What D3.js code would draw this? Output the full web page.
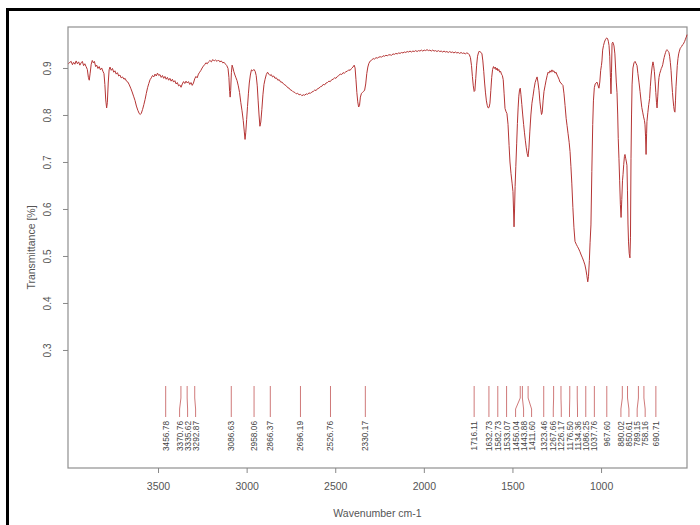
<!DOCTYPE html>
<html>
<head>
<meta charset="utf-8">
<script src="https://cdn.jsdelivr.net/npm/d3@7"></script>
<style>
  body { margin: 0; background: #fff; }
  svg { display: block; }
  text { font-family: "Liberation Sans", Arial, Helvetica, sans-serif; }
</style>
</head>
<body>
<svg id="chart" width="700" height="525"></svg>
<script>
// IR spectrum: wavenumber (cm-1) and transmittance
const wavenumber = [
  4006,3998,3990,3983,3976,3969,3962,3955,3948,3941,3934,3927,3920,3913,3906,3899,3893,3888,3883,3877,
  3871,3865,3859,3852,3846,3839,3832,3825,3818,3811,3805,3800,3795,3790,3786,3781,3776,3771,3764,3757,
  3750,3743,3736,3729,3722,3715,3708,3700,3692,3686,3678,3670,3662,3654,3646,3638,3630,3622,3614,3606,
  3600,3594,3587,3580,3573,3566,3559,3552,3545,3538,3531,3524,3517,3510,3503,3496,3489,3482,3475,3468,
  3461,3454,3447,3440,3433,3426,3419,3412,3405,3398,3391,3384,3377,3370,3363,3356,3349,3342,3335,3328,
  3321,3314,3307,3300,3293,3286,3279,3272,3265,3258,3251,3244,3237,3230,3222,3215,3207,3199,3191,3183,
  3175,3167,3159,3151,3143,3135,3127,3119,3112,3105,3100,3096,3093,3090,3086,3082,3077,3072,3066,3060,
  3054,3047,3040,3033,3026,3019,3013,3009,3005,3000,2995,2990,2985,2979,2973,2966,2959,2952,2946,2940,
  2935,2930,2925,2920,2914,2908,2902,2896,2889,2882,2875,2868,2861,2854,2847,2840,2832,2824,2816,2808,
  2800,2792,2784,2776,2768,2760,2752,2744,2736,2728,2720,2712,2704,2696,2688,2680,2672,2664,2656,2648,
  2640,2632,2624,2616,2608,2600,2592,2584,2576,2568,2560,2552,2544,2536,2528,2520,2512,2504,2496,2488,
  2480,2472,2464,2456,2448,2440,2432,2424,2416,2408,2400,2393,2388,2383,2378,2373,2368,2363,2358,2352,
  2346,2340,2334,2328,2322,2316,2310,2302,2294,2286,2278,2270,2262,2254,2246,2238,2230,2222,2214,2206,
  2198,2190,2182,2174,2166,2158,2150,2142,2134,2126,2118,2110,2102,2094,2086,2078,2070,2062,2054,2046,
  2038,2030,2022,2014,2006,1998,1990,1982,1974,1966,1958,1950,1942,1934,1926,1918,1910,1902,1894,1886,
  1878,1870,1862,1854,1846,1838,1830,1822,1814,1806,1798,1790,1782,1774,1766,1758,1750,1743,1737,1731,
  1726,1721,1716,1712,1707,1702,1697,1692,1687,1682,1677,1672,1667,1662,1657,1652,1647,1642,1637,1632,
  1627,1622,1617,1612,1607,1602,1597,1592,1587,1582,1577,1572,1567,1562,1557,1552,1547,1542,1537,1531,
  1525,1519,1514,1508,1502,1497,1494,1491,1488,1485,1481,1476,1472,1468,1464,1460,1456,1452,1447,1442,
  1437,1432,1427,1422,1417,1412,1407,1402,1396,1390,1384,1378,1372,1366,1361,1356,1350,1345,1340,1336,
  1332,1327,1322,1316,1310,1304,1299,1294,1288,1283,1277,1272,1266,1260,1254,1248,1243,1237,1232,1226,
  1220,1215,1209,1203,1197,1192,1186,1180,1175,1170,1165,1159,1153,1147,1140,1133,1126,1119,1112,1105,
  1098,1091,1085,1080,1075,1071,1066,1062,1057,1052,1047,1043,1038,1033,1028,1023,1018,1012,1007,1002,
  998,995,991,986,981,976,971,967,963,959,955,951,947,944,941,938,934,930,927,922,
  918,914,910,906,903,899,895,891,887,883,879,876,872,868,865,861,857,854,851,848,
  845,841,837,834,831,828,825,820,814,808,803,797,792,786,780,775,770,765,760,755,
  752,749,746,743,741,736,731,726,722,717,712,707,703,699,695,691,687,684,680,676,
  673,669,664,660,656,652,648,644,640,636,632,628,624,620,617,613,609,605,601,597,
  594,590,586,583,580,577,573,570,566,562,558,553,549,545,541,537,533,529,525,521,
  517,515
];
const transmittance = [
  .909,.912,.914,.907,.912,.908,.915,.909,.913,.906,.911,.914,.905,.909,.903,.897,.880,.874,.889,.908,
  .916,.911,.914,.903,.906,.899,.903,.896,.900,.893,.888,.865,.832,.815,.826,.868,.896,.902,.895,.899,
  .891,.894,.887,.890,.883,.885,.879,.881,.876,.878,.872,.870,.864,.857,.849,.840,.831,.819,.810,.803,
  .801,.804,.812,.822,.833,.846,.858,.867,.875,.879,.884,.881,.887,.883,.889,.884,.886,.880,.884,.878,
  .882,.876,.880,.874,.878,.872,.876,.870,.873,.866,.869,.862,.864,.859,.866,.871,.867,.872,.868,.871,
  .865,.869,.863,.868,.877,.882,.879,.887,.891,.895,.900,.904,.907,.911,.909,.913,.916,.913,.918,.915,
  .917,.914,.917,.913,.915,.911,.912,.908,.905,.899,.880,.850,.838,.852,.890,.906,.900,.892,.885,.879,
  .873,.862,.848,.827,.809,.788,.764,.748,.762,.790,.818,.845,.868,.885,.896,.894,.897,.893,.884,.862,
  .830,.800,.776,.785,.812,.843,.865,.876,.886,.891,.887,.884,.886,.881,.883,.878,.879,.874,.875,.870,
  .870,.866,.864,.862,.858,.857,.853,.852,.849,.848,.845,.846,.843,.844,.841,.843,.842,.845,.844,.847,
  .846,.849,.850,.853,.852,.856,.857,.860,.861,.865,.864,.868,.869,.872,.871,.875,.876,.879,.878,.882,
  .884,.887,.886,.890,.889,.892,.893,.896,.895,.899,.902,.906,.900,.875,.848,.828,.817,.820,.838,.846,
  .848,.850,.853,.866,.888,.902,.910,.915,.917,.920,.919,.922,.921,.923,.924,.923,.926,.925,.927,.926,
  .928,.928,.927,.930,.929,.931,.930,.932,.931,.933,.932,.934,.933,.935,.934,.936,.934,.936,.935,.937,
  .935,.937,.936,.938,.936,.938,.937,.939,.937,.938,.936,.938,.936,.937,.935,.937,.935,.936,.934,.936,
  .934,.935,.933,.935,.933,.934,.932,.934,.932,.933,.931,.933,.931,.932,.930,.932,.931,.928,.922,.905,
  .882,.862,.850,.852,.878,.906,.925,.932,.936,.934,.933,.930,.915,.893,.868,.847,.830,.820,.815,.816,
  .825,.852,.880,.897,.903,.899,.902,.896,.900,.894,.897,.891,.893,.887,.884,.875,.845,.814,.808,.803,
  .780,.735,.700,.675,.655,.637,.600,.562,.600,.648,.690,.740,.782,.815,.840,.853,.857,.843,.822,.800,
  .780,.762,.745,.730,.718,.711,.730,.764,.800,.825,.840,.856,.869,.876,.881,.870,.852,.828,.812,.801,
  .805,.830,.850,.862,.874,.884,.891,.889,.894,.891,.896,.892,.894,.889,.891,.885,.881,.876,.870,.868,
  .865,.863,.845,.820,.793,.778,.760,.742,.722,.690,.655,.603,.560,.531,.525,.520,.515,.509,.502,.496,
  .489,.481,.470,.458,.445,.456,.490,.528,.566,.680,.780,.830,.858,.866,.868,.870,.864,.857,.870,.895,
  .905,.915,.938,.948,.955,.960,.963,.964,.962,.957,.948,.925,.880,.845,.890,.952,.955,.951,.947,.930,
  .900,.870,.848,.800,.750,.708,.660,.610,.582,.620,.660,.673,.695,.712,.716,.708,.700,.693,.640,.568,
  .530,.505,.496,.540,.708,.800,.864,.900,.911,.914,.910,.905,.888,.870,.850,.832,.816,.806,.796,.788,
  .779,.755,.716,.760,.786,.805,.822,.835,.860,.885,.902,.913,.905,.892,.872,.848,.826,.815,.840,.868,
  .880,.888,.894,.899,.902,.907,.915,.922,.928,.933,.937,.939,.937,.935,.933,.925,.912,.895,.870,.848,
  .834,.818,.808,.806,.830,.860,.885,.905,.920,.930,.936,.942,.944,.946,.949,.950,.953,.956,.960,.964,
  .968,.971
];

// Picked peaks and their printed labels
const peakWavenumbers = [
  3456.78, 3370.76, 3335.62, 3292.87, 3086.63, 2958.06, 2866.37, 2696.19, 2526.76, 2330.17,
  1716.11, 1632.73, 1582.73, 1533.07, 1456.04, 1443.88, 1411.60, 1323.46, 1267.66, 1226.17,
  1176.50, 1134.36, 1086.25, 1037.76, 967.60, 880.02, 850.61, 789.15, 758.16, 690.71
];
const peakLabels = peakWavenumbers.map(v => v.toFixed(2));

const xTicks = [3500, 3000, 2500, 2000, 1500, 1000];
const yTicks = [0.3, 0.4, 0.5, 0.6, 0.7, 0.8, 0.9];
const xTitle = "Wavenumber cm-1";
const yTitle = "Transmittance [%]";

const svg = d3.select("#chart");
const plot = { left: 68, right: 687, top: 27, bottom: 468 };

const x = d3.scaleLinear().domain([4008, 515]).range([plot.left, plot.right]);
const y = d3.scaleLinear().domain([0.0489, 0.9872]).range([plot.bottom, plot.top]);

svg.append("rect").attr("width", 700).attr("height", 525).attr("fill", "#fff");

// outer frame of the figure
svg.append("rect")
  .attr("x", 7.5).attr("y", 9.5).attr("width", 760).attr("height", 600)
  .attr("fill", "none").attr("stroke", "#000").attr("stroke-width", 3);

// plot box
svg.append("rect")
  .attr("x", plot.left).attr("y", plot.top)
  .attr("width", plot.right - plot.left).attr("height", plot.bottom - plot.top)
  .attr("fill", "none").attr("stroke", "#8f8f8f").attr("stroke-width", 1.2);

// x axis
const gx = svg.append("g")
  .attr("transform", `translate(0,${plot.bottom})`)
  .call(d3.axisBottom(x).tickValues(xTicks).tickSize(5).tickPadding(10).tickFormat(d3.format("d")));
gx.select(".domain").remove();
gx.selectAll(".tick line").attr("stroke", "#888");
gx.selectAll(".tick text").attr("fill", "#555").attr("font-size", 10.5)
  .style("font-family", '"Liberation Sans", Arial, sans-serif');

// y axis with rotated tick labels
const gy = svg.append("g")
  .attr("transform", `translate(${plot.left},0)`)
  .call(d3.axisLeft(y).tickValues(yTicks).tickSize(5).tickFormat(d3.format(".1f")));
gy.select(".domain").remove();
gy.selectAll(".tick line").attr("stroke", "#888");
gy.selectAll(".tick text")
  .attr("x", null).attr("dy", null).attr("y", 0)
  .attr("transform", "translate(-17.5,0) rotate(-90)")
  .attr("text-anchor", "middle")
  .attr("fill", "#555").attr("font-size", 10)
  .style("font-family", '"Liberation Sans", Arial, sans-serif');

// axis titles
svg.append("text")
  .attr("x", (plot.left + plot.right) / 2).attr("y", 517)
  .attr("text-anchor", "middle").attr("font-size", 10.5).attr("fill", "#555")
  .text(xTitle);
svg.append("text")
  .attr("transform", `translate(35,${(plot.top + plot.bottom) / 2}) rotate(-90)`)
  .attr("text-anchor", "middle").attr("font-size", 10.5).attr("fill", "#555")
  .text(yTitle);

// spectrum trace
const spectrum = wavenumber.map((w, i) => [w, transmittance[i]]);
svg.append("path")
  .datum(spectrum)
  .attr("fill", "none")
  .attr("stroke", "#b53535")
  .attr("stroke-width", 1)
  .attr("stroke-linejoin", "round")
  .attr("d", d3.line().x(d => x(d[0])).y(d => y(d[1])));

// spread crowded peak labels apart while keeping their order
function spreadPositions(xs, gap) {
  const pos = xs.slice();
  for (let it = 0; it < 300; it++) {
    let moved = false;
    for (let i = 1; i < pos.length; i++) {
      const d = pos[i] - pos[i - 1];
      if (d < gap - 1e-6) {
        const s = (gap - d) / 2;
        pos[i - 1] -= s; pos[i] += s; moved = true;
      }
    }
    if (!moved) break;
  }
  return pos;
}

const peakX = peakWavenumbers.map(w => x(w));
const labelX = spreadPositions(peakX, 8);

const peaks = svg.append("g");
peaks.selectAll("path")
  .data(peakWavenumbers)
  .join("path")
  .attr("fill", "none")
  .attr("stroke", "#c96a6a")
  .attr("stroke-width", 0.9)
  .attr("d", (w, i) => `M${peakX[i]},386V398L${labelX[i]},409V417`);

peaks.selectAll("text")
  .data(peakLabels)
  .join("text")
  .attr("transform", (t, i) => `translate(${labelX[i] + 3},421) rotate(-90)`)
  .attr("text-anchor", "end")
  .attr("font-size", 8.3)
  .attr("fill", "#444")
  .text(t => t);
</script>
</body>
</html>
